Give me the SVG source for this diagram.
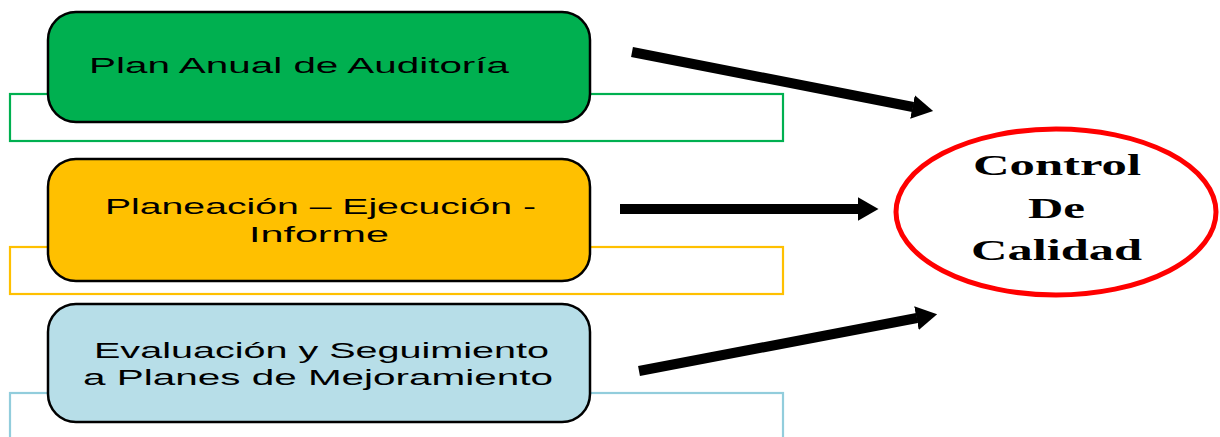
<svg xmlns="http://www.w3.org/2000/svg" width="1220" height="437" viewBox="0 0 1220 437">
<style>
.frame{fill:none;stroke-width:2.2}
.box{stroke:#000;stroke-width:2.5}
.lbl{font-family:"Liberation Sans",Arial,sans-serif;font-size:22px;fill:#000}
.ctl{font-family:"Liberation Serif","Times New Roman",serif;font-size:30px;font-weight:bold;fill:#000}
.arr{stroke:#000;stroke-width:10;fill:none}
</style>
<defs>
<marker id="head" markerUnits="userSpaceOnUse" viewBox="0 0 21 24" refX="0.5" refY="12" markerWidth="21" markerHeight="24" orient="auto">
<path d="M0,0 L21,12 L0,24 z" fill="#000"/>
</marker>
</defs>
<g id="node-plan">
<rect class="frame" x="10" y="94" width="773" height="47" stroke="#00B050"/>
<rect class="box" x="48" y="12" width="542" height="110" rx="28" fill="#00B050"/>
<text class="lbl" x="89" y="73" textLength="420" lengthAdjust="spacingAndGlyphs">Plan Anual de Auditoría</text>
</g>
<g id="node-planeacion">
<rect class="frame" x="10" y="247" width="773" height="47" stroke="#FFC000"/>
<rect class="box" x="48" y="159" width="542" height="122" rx="28" fill="#FFC000"/>
<text class="lbl" x="105" y="214" textLength="431" lengthAdjust="spacingAndGlyphs">Planeación – Ejecución -</text>
<text class="lbl" x="249" y="242" textLength="140" lengthAdjust="spacingAndGlyphs">Informe</text>
</g>
<g id="node-evaluacion">
<rect class="frame" x="10" y="393" width="773" height="60" stroke="#92CDDC"/>
<rect class="box" x="48" y="304" width="542" height="118" rx="28" fill="#B7DEE8"/>
<text class="lbl" x="94" y="358" textLength="455" lengthAdjust="spacingAndGlyphs">Evaluación y Seguimiento</text>
<text class="lbl" x="83" y="385" textLength="470" lengthAdjust="spacingAndGlyphs">a Planes de Mejoramiento</text>
</g>
<g id="node-control">
<ellipse cx="1056" cy="212" rx="160" ry="83" fill="#fff" stroke="#FF0000" stroke-width="5"/>
<text class="ctl" x="973" y="175" textLength="168" lengthAdjust="spacingAndGlyphs">Control</text>
<text class="ctl" x="1028" y="218" textLength="57" lengthAdjust="spacingAndGlyphs">De</text>
<text class="ctl" x="971" y="260" textLength="171" lengthAdjust="spacingAndGlyphs">Calidad</text>
</g>
<g id="connectors">
<line class="arr" x1="632" y1="52" x2="913" y2="107" marker-end="url(#head)"/>
<line class="arr" x1="620" y1="209" x2="858" y2="209" marker-end="url(#head)"/>
<line class="arr" x1="639" y1="371" x2="917" y2="318" marker-end="url(#head)"/>
</g>
</svg>
